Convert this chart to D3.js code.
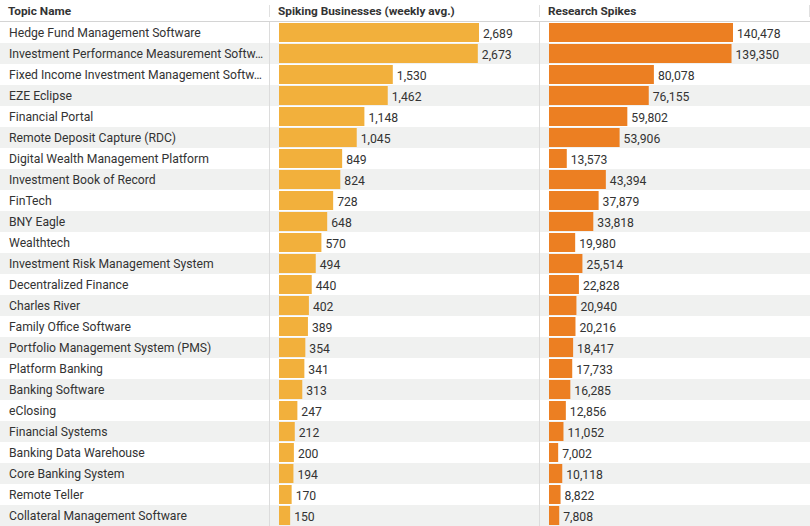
<!DOCTYPE html>
<html><head><meta charset="utf-8">
<script src="https://cdn.jsdelivr.net/npm/d3@7"></script>
<style>
html,body{margin:0;padding:0;background:#fff;}
svg{display:block;font-family:Roboto,"Noto Sans",sans-serif;}
</style></head>
<body>
<svg id="c" width="810" height="526"></svg>
<script>
const topics = [
  "Hedge Fund Management Software",
  "Investment Performance Measurement Softw…",
  "Fixed Income Investment Management Softw…",
  "EZE Eclipse",
  "Financial Portal",
  "Remote Deposit Capture (RDC)",
  "Digital Wealth Management Platform",
  "Investment Book of Record",
  "FinTech",
  "BNY Eagle",
  "Wealthtech",
  "Investment Risk Management System",
  "Decentralized Finance",
  "Charles River",
  "Family Office Software",
  "Portfolio Management System (PMS)",
  "Platform Banking",
  "Banking Software",
  "eClosing",
  "Financial Systems",
  "Banking Data Warehouse",
  "Core Banking System",
  "Remote Teller",
  "Collateral Management Software"
];
const spikingBusinesses = [2689,2673,1530,1462,1148,1045,849,824,728,648,570,494,440,402,389,354,341,313,247,212,200,194,170,150];
const researchSpikes = [140478,139350,80078,76155,59802,53906,13573,43394,37879,33818,19980,25514,22828,20940,20216,18417,17733,16285,12856,11052,7002,10118,8822,7808];
const headers = ["Topic Name","Spiking Businesses (weekly avg.)","Research Spikes"];

const W = 810, H = 526, headerH = 22;
const svg = d3.select("#c");
const fmt = d3.format(",");
const textColor = "#333";
const bodySize = 12.2;

const y = d3.scaleBand().domain(topics.map((d,i)=>i)).range([headerH, H]).padding(0);
const x1 = d3.scaleLinear().domain([0, d3.max(spikingBusinesses)]).range([279, 479]);
const x2 = d3.scaleLinear().domain([0, d3.max(researchSpikes)]).range([549, 733]);

// row backgrounds
svg.append("g").selectAll("rect").data(topics).join("rect")
  .attr("x",0).attr("width",W)
  .attr("y",(d,i)=>y(i)).attr("height",y.bandwidth())
  .attr("fill",(d,i)=> i%2 ? "#f0f1f0" : "#fff");

// header
const colX = [8, 278, 548];
svg.append("g").selectAll("text").data(headers).join("text")
  .attr("x",(d,i)=>colX[i]).attr("y",14.5)
  .attr("font-size",11.8).attr("font-weight",700).attr("fill",textColor)
  .text(d=>d);
svg.append("line").attr("x1",0).attr("x2",W).attr("y1",21.5).attr("y2",21.5)
  .attr("stroke","#d4d4d4").attr("stroke-width",1);
[269.5,539.5,809.5].forEach(xx=>{
  svg.append("line").attr("x1",xx).attr("x2",xx).attr("y1",5).attr("y2",17)
    .attr("stroke","#e0e0e0");
});
// column separators in body
[269.5,539.5].forEach(xx=>{
  svg.append("line").attr("x1",xx).attr("x2",xx).attr("y1",headerH).attr("y2",H)
    .attr("stroke","#dcdcdc");
});

// topic names
svg.append("g").selectAll("text").data(topics).join("text")
  .attr("x",9).attr("y",(d,i)=>y(i)+y.bandwidth()/2+4.3)
  .attr("font-size",bodySize).attr("fill",textColor)
  .text(d=>d);

// bars 1
const g1 = svg.append("g");
g1.selectAll("rect").data(spikingBusinesses).join("rect")
  .attr("x",x1(0)).attr("y",(d,i)=>y(i)+1)
  .attr("width",d=>x1(d)-x1(0)).attr("height",y.bandwidth()-2)
  .attr("fill","#f2b03c");
g1.selectAll("text").data(spikingBusinesses).join("text")
  .attr("x",d=>x1(d)+4).attr("y",(d,i)=>y(i)+y.bandwidth()/2+5.3)
  .attr("font-size",bodySize).attr("fill",textColor)
  .text(d=>fmt(d));

// bars 2
const g2 = svg.append("g");
g2.selectAll("rect").data(researchSpikes).join("rect")
  .attr("x",x2(0)).attr("y",(d,i)=>y(i)+1)
  .attr("width",d=>x2(d)-x2(0)).attr("height",y.bandwidth()-2)
  .attr("fill","#ec7f22");
g2.selectAll("text").data(researchSpikes).join("text")
  .attr("x",d=>x2(d)+4).attr("y",(d,i)=>y(i)+y.bandwidth()/2+5.3)
  .attr("font-size",bodySize).attr("fill",textColor)
  .text(d=>fmt(d));
</script>
</body></html>
